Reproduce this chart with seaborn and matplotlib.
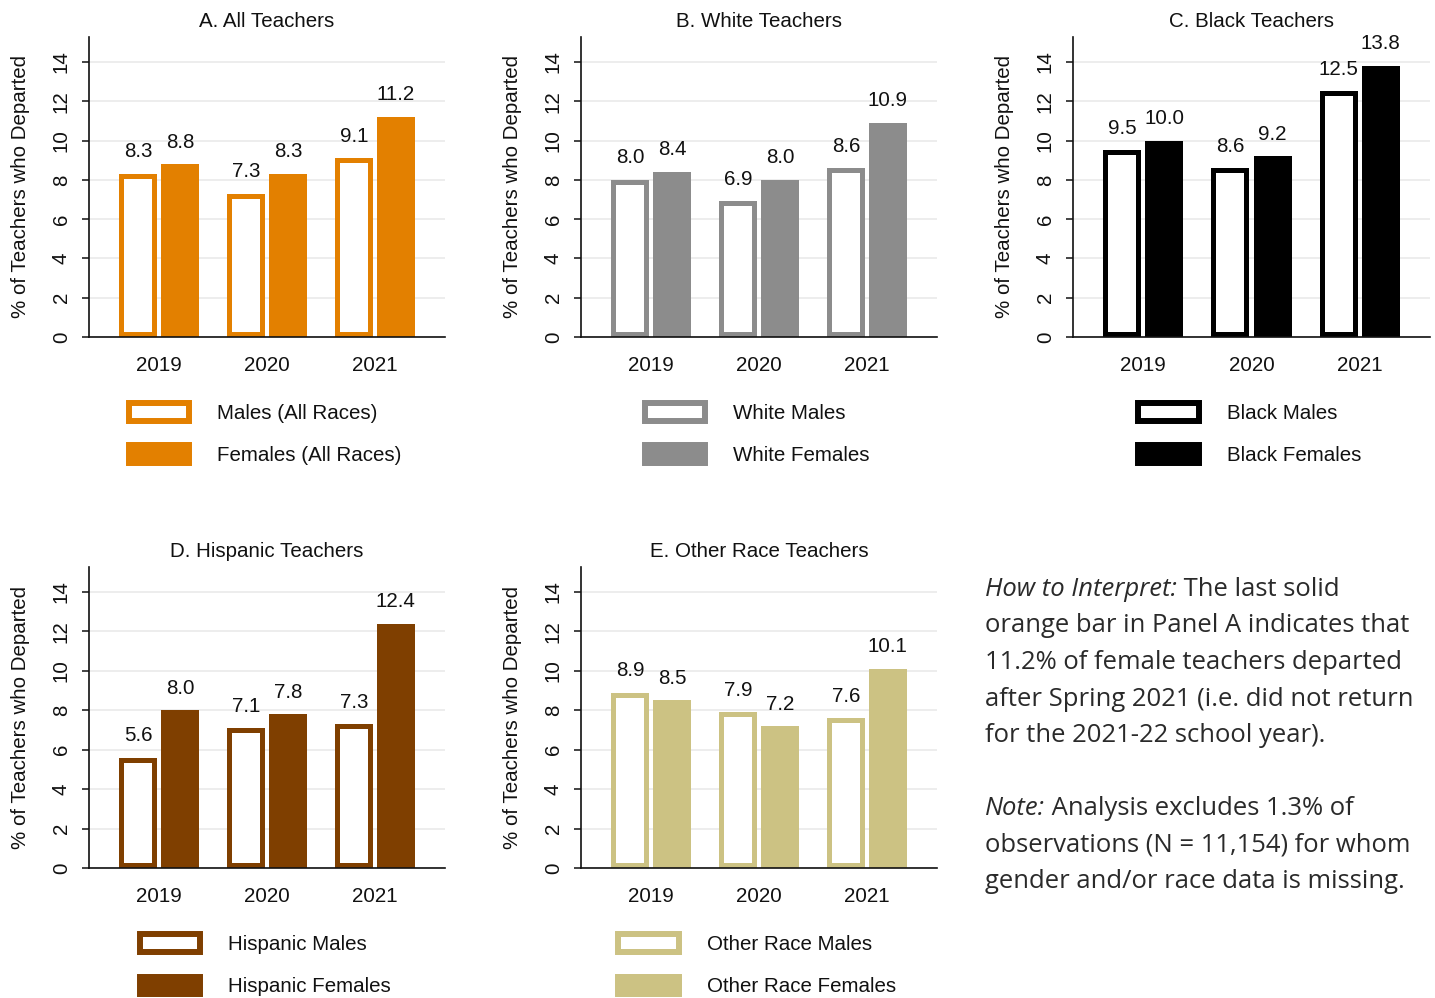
import matplotlib
matplotlib.use("Agg")
import matplotlib.pyplot as plt
from matplotlib.patches import Patch
import seaborn as sns
import pandas as pd

# ---------------- data ----------------
years = ["2019", "2020", "2021"]

all_males = [8.3, 7.3, 9.1]
all_females = [8.8, 8.3, 11.2]
white_males = [8.0, 6.9, 8.6]
white_females = [8.4, 8.0, 10.9]
black_males = [9.5, 8.6, 12.5]
black_females = [10.0, 9.2, 13.8]
hisp_males = [5.6, 7.1, 7.3]
hisp_females = [8.0, 7.8, 12.4]
other_males = [8.9, 7.9, 7.6]
other_females = [8.5, 7.2, 10.1]

titles = ["A. All Teachers", "B. White Teachers", "C. Black Teachers",
          "D. Hispanic Teachers", "E. Other Race Teachers"]
male_labels = ["Males (All Races)", "White Males", "Black Males",
               "Hispanic Males", "Other Race Males"]
female_labels = ["Females (All Races)", "White Females", "Black Females",
                 "Hispanic Females", "Other Race Females"]
colors = ["#E38000", "#8C8C8C", "#000000", "#7F3F00", "#CCC283"]
ylabel = "% of Teachers who Departed"

panels = [
    (all_males, all_females),
    (white_males, white_females),
    (black_males, black_females),
    (hisp_males, hisp_females),
    (other_males, other_females),
]

# ---------------- style ----------------
sns.set_theme(style="white")
plt.rcParams["font.family"] = ["Liberation Sans", "DejaVu Sans"]
FS = 14.8
TXT = "#111111"

W, H = 1435, 998
fig = plt.figure(figsize=(W / 100, H / 100), dpi=100)

ax_pos_px = [
    (89, 37, 445, 337),
    (581, 37, 937, 337),
    (1073, 37, 1430, 337),
    (89, 567, 445, 868),
    (581, 567, 937, 868),
]

for i, ((m, f), (x0, y0, x1, y1)) in enumerate(zip(panels, ax_pos_px)):
    ax = fig.add_axes([x0 / W, 1 - y1 / H, (x1 - x0) / W, (y1 - y0) / H])
    col = colors[i]
    df = pd.DataFrame({
        "year": years * 2,
        "sex": ["Male"] * 3 + ["Female"] * 3,
        "value": list(m) + list(f),
    })
    sns.barplot(data=df, x="year", y="value", hue="sex",
                hue_order=["Male", "Female"],
                palette=[col, col], width=0.78, gap=0.1,
                legend=False, ax=ax, saturation=1)
    # hollow male bars
    for p in ax.containers[0].patches:
        p.set_facecolor("white")
        p.set_edgecolor(col)
        p.set_linewidth(7.2)
        p.set_clip_path(p)
    for p in ax.containers[1].patches:
        p.set_facecolor(col)
        p.set_edgecolor(col)
        p.set_linewidth(0)
    for c in ax.containers:
        ax.bar_label(c, fmt="%.1f", padding=9, fontsize=FS, color=TXT)

    ax.set_ylim(0, 15.27)
    ax.set_xlim(-0.65, 2.65)
    ax.set_yticks(range(0, 15, 2))
    ax.yaxis.grid(True, color="#ececec", linewidth=1.3)
    ax.set_axisbelow(True)
    for s in ["top", "right"]:
        ax.spines[s].set_visible(False)
    for s in ["left", "bottom"]:
        ax.spines[s].set_color("#111111")
        ax.spines[s].set_linewidth(1.2)
    ax.tick_params(axis="y", length=5, width=1.1, color="#111111", pad=8,
                   labelsize=FS, labelcolor=TXT, left=True)
    ax.tick_params(axis="x", length=0, pad=14, labelsize=FS, labelcolor=TXT)
    for lab in ax.get_yticklabels():
        lab.set_rotation(90)
        lab.set_va("center")
    ax.set_xlabel("")
    ax.set_ylabel(ylabel, fontsize=FS, color=TXT, labelpad=16)
    ax.set_title(titles[i], fontsize=FS, color=TXT, pad=7.5)

    handles = [
        Patch(facecolor="white", edgecolor=col, linewidth=4.3, label=male_labels[i]),
        Patch(facecolor=col, edgecolor=col, linewidth=4.3, label=female_labels[i]),
    ]
    leg = ax.legend(handles=handles, loc="upper center",
                    bbox_to_anchor=(0.495, -0.185), frameon=False, ncol=1,
                    fontsize=FS, handlelength=2.95, handleheight=0.95,
                    handletextpad=1.35, labelspacing=1.1, borderpad=0)
    for t in leg.get_texts():
        t.set_color(TXT)

# ---------------- note text ----------------
NOTE_FS = 18.45
NCOL = "#2a2a2a"
nx = 985 / W
fig.canvas.draw()
renderer = fig.canvas.get_renderer()


def mixed_line(y_px, ital, rest):
    y = 1 - y_px / H
    if ital:
        t = fig.text(nx, y, ital, fontsize=NOTE_FS, family="Open Sans",
                     style="italic", color=NCOL, va="baseline", ha="left")
        bb = t.get_window_extent(renderer=renderer)
        x2 = bb.x1 / W
        fig.text(x2, y, rest, fontsize=NOTE_FS, family="Open Sans",
                 color=NCOL, va="baseline", ha="left")
    else:
        fig.text(nx, y, rest, fontsize=NOTE_FS, family="Open Sans",
                 color=NCOL, va="baseline", ha="left")


lines = [
    (596, "How to Interpret:", " The last solid"),
    (632.5, None, "orange bar in Panel A indicates that"),
    (669, None, "11.2% of female teachers departed"),
    (705.5, None, "after Spring 2021 (i.e. did not return"),
    (742, None, "for the 2021-22 school year)."),
    (815, "Note:", " Analysis excludes 1.3% of"),
    (851.5, None, "observations (N = 11,154) for whom"),
    (888, None, "gender and/or race data is missing."),
]
for y_px, it, rest in lines:
    mixed_line(y_px, it, rest)

fig.savefig("out.png", dpi=100)
